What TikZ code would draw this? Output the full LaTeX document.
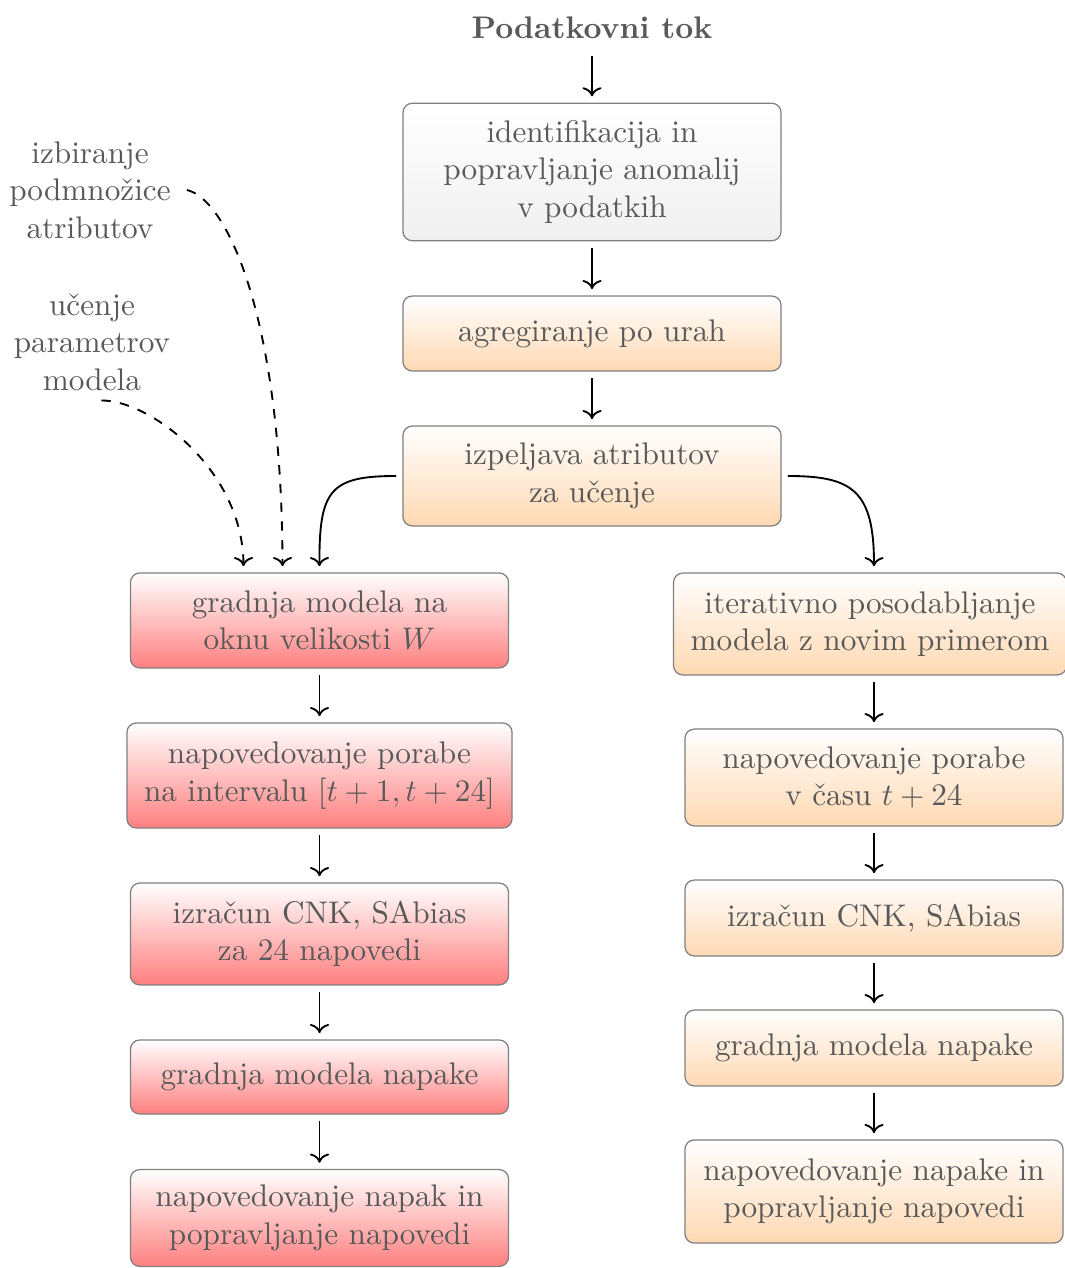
\documentclass[tikz,border=0pt]{standalone}
\usetikzlibrary{arrows.meta}
\begin{document}
\begin{tikzpicture}[x=0.32pt,y=-0.32pt,
  box/.style={draw=black!50, rounded corners=3pt, align=center, text=black!65,
    minimum width=121pt, inner xsep=5.5pt, inner ysep=2pt},
  gbox/.style={box, top color=white, bottom color=black!6},
  obox/.style={box, top color=white, bottom color=orange!30},
  rbox/.style={box, top color=white, bottom color=red!50},
  lbl/.style={align=center, text=black!65, inner sep=2pt},
  arr/.style={->, semithick, shorten >=2pt, shorten <=2pt},
  darr/.style={->, semithick, dashed}]
\useasboundingbox (0,0) rectangle (1064,1268);

\node[lbl, font=\bfseries] (title) at (592,28) {Podatkovni tok};
\node[gbox, minimum height=44pt] (b1) at (592,172) {identifikacija in\\popravljanje anomalij\\v podatkih};
\node[obox, minimum height=24pt] (b2) at (592,333.5) {agregiranje po urah};
\node[obox, minimum height=32pt] (b3) at (592,476) {izpeljava atributov\\za učenje};

\node[rbox, minimum height=30.4pt] (l1) at (319.5,620.5) {gradnja modela na\\oknu velikosti $W$};
\node[rbox, minimum height=33.6pt] (l2) at (319.5,775.5) {napovedovanje porabe\\na intervalu $[t+1,t+24]$};
\node[rbox, minimum height=32.6pt] (l3) at (319.5,934) {izračun CNK, SAbias\\za 24 napovedi};
\node[rbox, minimum height=23.7pt] (l4) at (319.5,1077) {gradnja modela napake};
\node[rbox, minimum height=31pt] (l5) at (319.5,1218) {napovedovanje napak in\\popravljanje napovedi};

\node[obox, minimum height=32.6pt] (r1) at (870,624) {iterativno posodabljanje\\modela z novim primerom};
\node[obox, minimum height=31pt] (r2) at (874,777.5) {napovedovanje porabe\\v času $t+24$};
\node[obox, minimum height=24.3pt] (r3) at (874,918) {izračun CNK, SAbias};
\node[obox, minimum height=24.3pt] (r4) at (874,1048) {gradnja modela napake};
\node[obox, minimum height=33pt] (r5) at (874,1191.5) {napovedovanje napake in\\popravljanje napovedi};

\node[lbl] (s1) at (90,190) {izbiranje\\podmnožice\\atributov};
\node[lbl] (s2) at (92,342) {učenje\\parametrov\\modela};

\draw[arr, shorten <=3.2pt] (title) -- (b1);
\draw[arr] (b1) -- (b2);
\draw[arr] (b2) -- (b3);
\draw[arr] (b3.west) .. controls (330,476) and (319,490) .. (l1.north);
\draw[arr] (b3.east) .. controls (852,476) and (874,490) .. (r1.north -| r2.north);
\draw[arr] (l1) -- (l2);
\draw[arr] (l2) -- (l3);
\draw[arr] (l3) -- (l4);
\draw[arr] (l4) -- (l5);
\draw[arr] (r1.south -| r2.north) -- (r2);
\draw[arr] (r2) -- (r3);
\draw[arr] (r3) -- (r4);
\draw[arr] (r4) -- (r5);

\coordinate (d1) at ([xshift=-37*0.32pt, yshift=2pt]l1.north);
\coordinate (d2) at ([xshift=-76*0.32pt, yshift=2pt]l1.north);
\draw[darr] ([xshift=3pt]s1.east) .. controls (228,200) and (282,320) .. (d1);
\draw[darr] ([xshift=3pt,yshift=-1pt]s2.south) .. controls (150,400) and (243,470) .. (d2);
\end{tikzpicture}
\end{document}
